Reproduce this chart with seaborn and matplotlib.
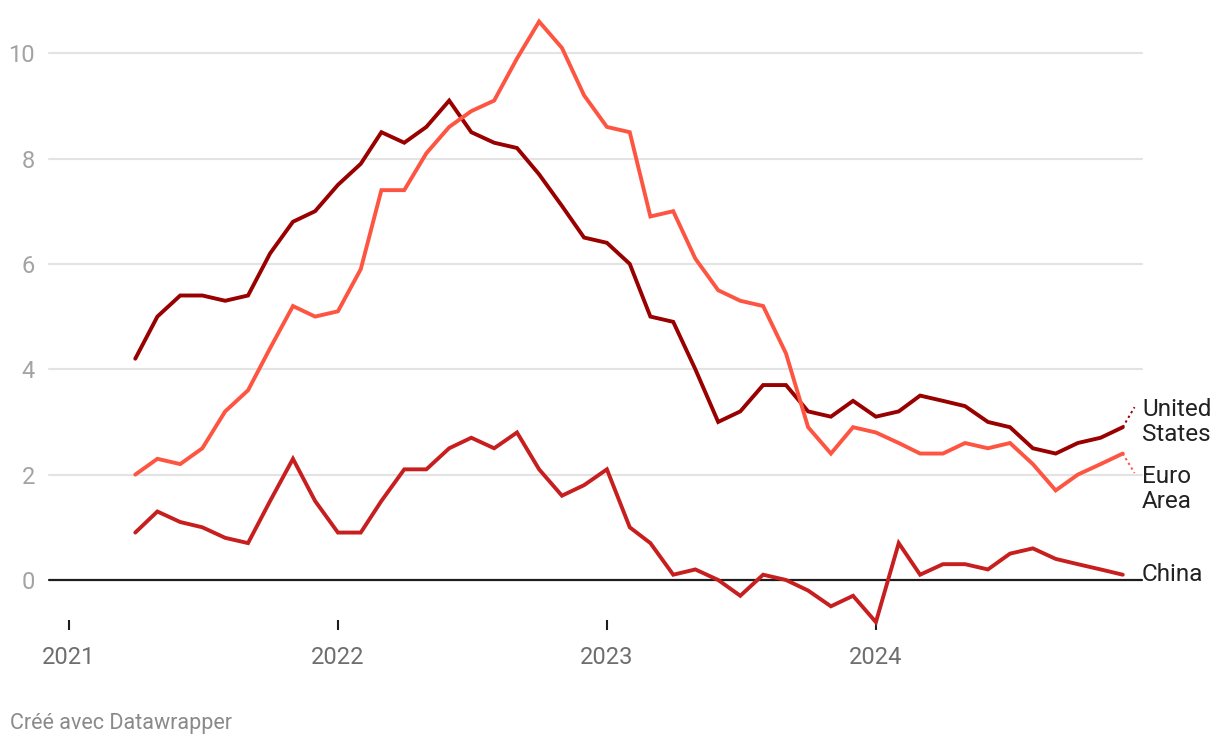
import pandas as pd
import matplotlib
matplotlib.use("Agg")
import matplotlib.pyplot as plt
import matplotlib.transforms as mtransforms
import seaborn as sns

# données mensuelles, avril 2021 - décembre 2024 (inflation annuelle, %)
months = pd.date_range("2021-04-01", "2024-12-01", freq="MS")

us = [4.2, 5.0, 5.4, 5.4, 5.3, 5.4, 6.2, 6.8, 7.0,
      7.5, 7.9, 8.5, 8.3, 8.6, 9.1, 8.5, 8.3, 8.2, 7.7, 7.1, 6.5,
      6.4, 6.0, 5.0, 4.9, 4.0, 3.0, 3.2, 3.7, 3.7, 3.2, 3.1, 3.4,
      3.1, 3.2, 3.5, 3.4, 3.3, 3.0, 2.9, 2.5, 2.4, 2.6, 2.7, 2.9]
euro = [2.0, 2.3, 2.2, 2.5, 3.2, 3.6, 4.4, 5.2, 5.0,
        5.1, 5.9, 7.4, 7.4, 8.1, 8.6, 8.9, 9.1, 9.9, 10.6, 10.1, 9.2,
        8.6, 8.5, 6.9, 7.0, 6.1, 5.5, 5.3, 5.2, 4.3, 2.9, 2.4, 2.9,
        2.8, 2.6, 2.4, 2.4, 2.6, 2.5, 2.6, 2.2, 1.7, 2.0, 2.2, 2.4]
china = [0.9, 1.3, 1.1, 1.0, 0.8, 0.7, 1.5, 2.3, 1.5,
         0.9, 0.9, 1.5, 2.1, 2.1, 2.5, 2.7, 2.5, 2.8, 2.1, 1.6, 1.8,
         2.1, 1.0, 0.7, 0.1, 0.2, 0.0, -0.3, 0.1, 0.0, -0.2, -0.5, -0.3,
         -0.8, 0.7, 0.1, 0.3, 0.3, 0.2, 0.5, 0.6, 0.4, 0.3, 0.2, 0.1]

countries = ["United States", "Euro Area", "China"]
labels = ["United\nStates", "Euro\nArea", "China"]
colors = {"United States": "#990000", "Euro Area": "#fd5542", "China": "#c71f1f"}
years = ["2021", "2022", "2023", "2024"]
yticks = [0, 2, 4, 6, 8, 10]

df = pd.DataFrame({
    "date": list(months) * 3,
    "value": us + euro + china,
    "country": sum([[c] * len(months) for c in countries], []),
})

sns.set_style("white")
plt.rcParams["font.family"] = ["Roboto", "DejaVu Sans"]

fig = plt.figure(figsize=(12.2, 7.48), dpi=100)
ax = fig.add_axes([0.0402, 0.1711, 0.936 - 0.0402, 0.9599 - 0.1711])

# grille
for v in yticks[1:]:
    ax.axhline(v, color="#e3e3e3", lw=1.5, zorder=0)
ax.axhline(0, color="#1d1d1d", lw=1.6, zorder=1)

sns.lineplot(data=df, x="date", y="value", hue="country", palette=colors,
             hue_order=countries, lw=2.8, legend=False, ax=ax, zorder=3)
for line in ax.get_lines():
    line.set_clip_on(False)
    line.set_solid_joinstyle("miter")

ax.set_xlim(pd.Timestamp("2020-12-05"), pd.Timestamp("2024-12-27"))
ax.set_ylim(-0.76, 10.44)

ax.set_xticks([pd.Timestamp(f"{y}-01-01") for y in years])
ax.set_xticklabels(years)
ax.set_yticks(yticks)
ax.set_yticklabels([str(v) for v in yticks])
ax.tick_params(axis="x", length=7.5, width=1.5, color="#1d1d1d", pad=11,
               labelsize=17, labelcolor="#6e6e6e", direction="out", bottom=True)
ax.tick_params(axis="y", length=0, pad=10, labelsize=17, labelcolor="#a3a3a3")
for s in ax.spines.values():
    s.set_visible(False)
ax.set_xlabel("")
ax.set_ylabel("")

# étiquettes à droite
trans = mtransforms.blended_transform_factory(ax.transAxes, ax.transData)
last = df["date"].max()
end_vals = [us[-1], euro[-1], china[-1]]
label_y = [3.0, 1.72, 0.1]
hook_y = [3.28, 2.03, None]
for c, lab, ev, ly, hy in zip(countries, labels, end_vals, label_y, hook_y):
    ax.text(1.0, ly, lab, transform=trans, ha="left", va="center",
            fontsize=17.5, color="#222222", linespacing=1.12)
    if hy is not None:
        ax.plot([last, last + pd.Timedelta(days=16)], [ev, hy], color=colors[c],
                lw=1.4, ls=(0, (1.2, 1.6)), clip_on=False)

fig.text(10 / 1220, 1 - 724 / 748, "Créé avec Datawrapper", ha="left", va="center",
         fontsize=15.5, color="#8a8a8a")

fig.savefig("out.png", dpi=100)
